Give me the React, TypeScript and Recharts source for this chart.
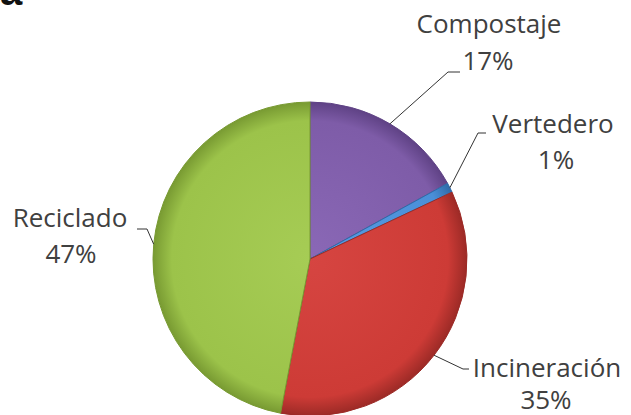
import { Cell, Pie, PieChart } from "recharts";

const categories = ["Compostaje", "Vertedero", "Incineración", "Reciclado"];
const shares = [17, 1, 35, 47];
const percentLabels = ["17%", "1%", "35%", "47%"];

const baseColors = ["#7e5ca8", "#4a8fd8", "#cd3b36", "#9cc34a"];
const rimColors = ["#5f4285", "#2f6aa8", "#9c2a26", "#789a32"];
const lightColors = ["#8a68b6", "#5a9ce2", "#d64541", "#a6cc55"];

const CX = 310;
const CY = 259;
const R = 157;

// elbow + text placement of each leader label (Excel style)
const labelLayout = [
  { elbow: [448, 72], end: [460, 72], name: [489, 33], pct: [488, 70] },
  { elbow: [478, 133], end: [486, 133], name: [553, 133], pct: [556, 169] },
  { elbow: [463, 369], end: [469, 369], name: [547, 377], pct: [546, 409] },
  { elbow: [147, 229], end: [137, 229], name: [70, 227], pct: [71, 263] },
];

const chartData = categories.map((name, i) => ({ name, value: shares[i] }));

const renderLabel = ({ cx, cy, midAngle, outerRadius, index }: any) => {
  const RADIAN = Math.PI / 180;
  const sx = cx + outerRadius * Math.cos(-midAngle * RADIAN);
  const sy = cy + outerRadius * Math.sin(-midAngle * RADIAN);
  const l = labelLayout[index];
  return (
    <g key={`lbl-${index}`}>
      <polyline
        points={`${sx},${sy} ${l.elbow[0]},${l.elbow[1]} ${l.end[0]},${l.end[1]}`}
        fill="none"
        stroke="#333"
        strokeWidth={1}
      />
      <text
        x={l.name[0]}
        y={l.name[1]}
        textAnchor="middle"
        fill="#404040"
        fontSize={26}
        fontFamily="'Open Sans', sans-serif"
      >
        {categories[index]}
      </text>
      <text
        x={l.pct[0]}
        y={l.pct[1]}
        textAnchor="middle"
        fill="#404040"
        fontSize={26}
        fontFamily="'Open Sans', sans-serif"
      >
        {percentLabels[index]}
      </text>
    </g>
  );
};

export default function App() {
  return (
    <div
      style={{
        position: "absolute",
        left: 0,
        top: 0,
        width: 631,
        height: 415,
        background: "#fff",
        overflow: "hidden",
      }}
    >
      <PieChart width={631} height={415} margin={{ top: 0, right: 0, bottom: 0, left: 0 }}>
        <defs>
          {baseColors.map((c, i) => (
            <radialGradient
              key={`g-${i}`}
              id={`slice-${i}`}
              gradientUnits="userSpaceOnUse"
              cx={CX}
              cy={CY}
              r={R}
            >
              <stop offset="0%" stopColor={lightColors[i]} />
              <stop offset="88%" stopColor={c} />
              <stop offset="100%" stopColor={rimColors[i]} />
            </radialGradient>
          ))}
        </defs>
        <text
          x={0}
          y={5}
          fontSize={40}
          fontWeight="bold"
          fill="#111"
          fontFamily="'Liberation Sans', Arial, sans-serif"
        >
          a
        </text>
        <Pie
          data={chartData}
          dataKey="value"
          cx={CX}
          cy={CY}
          outerRadius={R}
          startAngle={90}
          endAngle={-270}
          labelLine={false}
          label={renderLabel}
          isAnimationActive={false}
        >
          {chartData.map((_entry, index) => (
            <Cell
              key={`cell-${index}`}
              fill={`url(#slice-${index})`}
              stroke={rimColors[index]}
              strokeWidth={1}
            />
          ))}
        </Pie>
      </PieChart>
    </div>
  );
}
